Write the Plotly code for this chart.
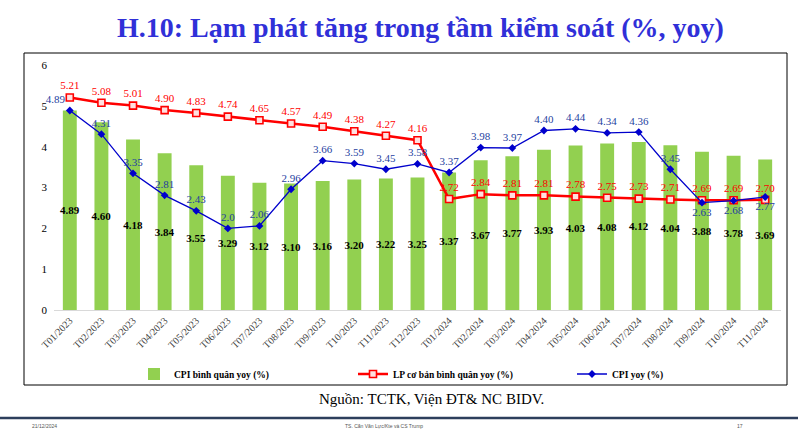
import plotly.graph_objects as go

months = ["T01/2023", "T02/2023", "T03/2023", "T04/2023", "T05/2023", "T06/2023",
          "T07/2023", "T08/2023", "T09/2023", "T10/2023", "T11/2023", "T12/2023",
          "T01/2024", "T02/2024", "T03/2024", "T04/2024", "T05/2024", "T06/2024",
          "T07/2024", "T08/2024", "T09/2024", "T10/2024", "T11/2024"]
cpi_avg = [4.89, 4.60, 4.18, 3.84, 3.55, 3.29, 3.12, 3.10, 3.16, 3.20, 3.22, 3.25,
           3.37, 3.67, 3.77, 3.93, 4.03, 4.08, 4.12, 4.04, 3.88, 3.78, 3.69]
core_avg = [5.21, 5.08, 5.01, 4.90, 4.83, 4.74, 4.65, 4.57, 4.49, 4.38, 4.27, 4.16,
            2.72, 2.84, 2.81, 2.81, 2.78, 2.75, 2.73, 2.71, 2.69, 2.69, 2.70]
cpi_yoy = [4.89, 4.31, 3.35, 2.81, 2.43, 2.0, 2.06, 2.96, 3.66, 3.59, 3.45, 3.58,
           3.37, 3.98, 3.97, 4.40, 4.44, 4.34, 4.36, 3.45, 2.63, 2.68, 2.77]
y_ticks = [0, 1, 2, 3, 4, 5, 6]

SERIF = "Liberation Serif, Times New Roman, serif"

# layout geometry (px) -> paper coords
W, H = 798, 434
L, R, T, B = 54, 17, 55, 124
PW, PH = W - L - R, H - T - B
BOTTOM_PX = H - B


def px_x(x):
    return (x - L) / PW


def px_y(y):
    return (BOTTOM_PX - y) / PH


def fmt(v):
    return "2.0" if v == 2.0 else f"{v:.2f}"


yoy_pos = ["top center"] * len(cpi_yoy)
yoy_pos[0] = "top left"
yoy_pos[20] = "bottom center"
yoy_pos[21] = "bottom center"
yoy_pos[22] = "bottom center"

fig = go.Figure()
fig.add_trace(go.Bar(
    x=months, y=cpi_avg, name="CPI bình quân yoy (%)",
    marker=dict(color="#92d050", line=dict(width=0)),
    width=0.44,
    text=[f"{v:.2f}" for v in cpi_avg],
    textposition="inside", insidetextanchor="middle", textangle=0,
    constraintext="none",
    textfont=dict(family=SERIF, size=11, color="#000000", weight="bold"),
))
fig.add_trace(go.Scatter(
    x=months, y=core_avg, name="LP cơ bản bình quân yoy (%)",
    mode="lines+markers+text", cliponaxis=False,
    line=dict(color="#ff0000", width=2.5),
    marker=dict(symbol="square", size=7, color="#ffe0e0", line=dict(color="#ff0000", width=1.6)),
    text=[f"{v:.2f}" for v in core_avg], textposition="top center",
    textfont=dict(family=SERIF, size=11, color="#ff0000"),
))
fig.add_trace(go.Scatter(
    x=months, y=cpi_yoy, name="CPI yoy (%)",
    mode="lines+markers+text", cliponaxis=False,
    line=dict(color="#0000cc", width=1.3),
    marker=dict(symbol="diamond", size=6, color="#0000cc"),
    text=[fmt(v) for v in cpi_yoy], textposition=yoy_pos,
    textfont=dict(family=SERIF, size=11, color="#1f3f9f"),
))

shapes = [
    # chart frame
    dict(type="rect", xref="paper", yref="paper",
         x0=px_x(24), x1=px_x(787), y0=px_y(385), y1=px_y(53),
         line=dict(color="#000000", width=1), fillcolor="rgba(0,0,0,0)", layer="below"),
    # footer rule
    dict(type="line", xref="paper", yref="paper",
         x0=px_x(0), x1=px_x(798), y0=px_y(418), y1=px_y(418),
         line=dict(color="#2c3e5c", width=2.5)),
]

annotations = [
    dict(text="H.10: Lạm phát tăng trong tầm kiểm soát (%, yoy)", xref="paper", yref="paper",
         x=px_x(420), y=px_y(28), showarrow=False, xanchor="center", yanchor="middle",
         font=dict(family=SERIF, size=28, color="#3030d8", weight="bold")),
    dict(text="Nguồn: TCTK, Viện ĐT& NC BIDV.", xref="paper", yref="paper",
         x=px_x(431), y=px_y(399), showarrow=False, xanchor="center", yanchor="middle",
         font=dict(family=SERIF, size=15, color="#000000")),
    dict(text="21/12/2024", xref="paper", yref="paper",
         x=px_x(30), y=px_y(426), showarrow=False, xanchor="left", yanchor="middle",
         font=dict(family="Liberation Sans, Arial, sans-serif", size=5, color="#555555")),
    dict(text="TS. Cấn Văn Lực/Kte và CS Trump", xref="paper", yref="paper",
         x=px_x(384), y=px_y(426), showarrow=False, xanchor="center", yanchor="middle",
         font=dict(family="Liberation Sans, Arial, sans-serif", size=5, color="#555555")),
    dict(text="17", xref="paper", yref="paper",
         x=px_x(740), y=px_y(426), showarrow=False, xanchor="center", yanchor="middle",
         font=dict(family="Liberation Sans, Arial, sans-serif", size=5, color="#555555")),
]

fig.update_layout(
    width=W, height=H,
    margin=dict(l=L, r=R, t=T, b=B, autoexpand=False),
    paper_bgcolor="#ffffff", plot_bgcolor="#ffffff",
    showlegend=True,
    legend=dict(orientation="h", x=px_x(134), xanchor="left",
                y=px_y(374), yanchor="middle",
                font=dict(family=SERIF, size=9.5, color="#000000", weight="bold"),
                entrywidth=174, bgcolor="rgba(0,0,0,0)"),
    xaxis=dict(type="category", range=[-0.5, len(months) - 0.5], showgrid=False,
               showline=True, linecolor="#d9d9d9",
               linewidth=1, ticks="", tickangle=-45, automargin=False,
               tickfont=dict(family=SERIF, size=10, color="#404040")),
    yaxis=dict(range=[0, 6.25], tickvals=y_ticks, showgrid=False, zeroline=False,
               showline=False, ticks="", automargin=False, ticklabelstandoff=6,
               tickfont=dict(family=SERIF, size=11, color="#000000")),
    shapes=shapes, annotations=annotations,
    bargap=0.5,
)

fig.write_html("out.html", config={"displayModeBar": False},
               post_script="document.body.style.margin='0';")
